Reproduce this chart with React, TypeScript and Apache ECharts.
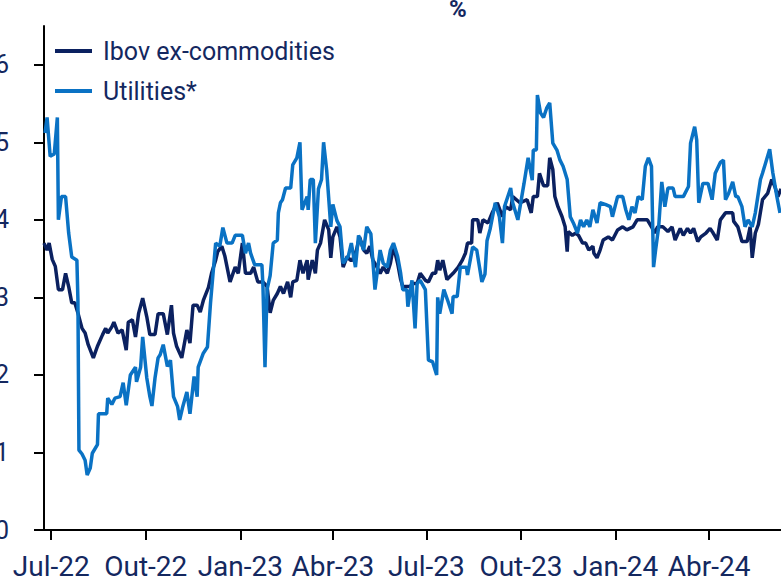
import React, { useEffect, useRef } from "react";
import * as echarts from "echarts";

const seriesNames = ["Ibov ex-commodities", "Utilities*"];
const seriesColors = ["#0b2160", "#0a72c4"];
const textColor = "#14285f";

const xTickDates = ["2022-07-01", "2022-10-01", "2023-01-01", "2023-04-01", "2023-07-01", "2023-10-01", "2024-01-01", "2024-04-01"];
const xTickLabels = ["Jul-22", "Out-22", "Jan-23", "Abr-23", "Jul-23", "Out-23", "Jan-24", "Abr-24"];
const yTickValues = [0, 1, 2, 3, 4, 5, 6];

const ibovDates = [
  "2022-06-24","2022-06-27","2022-06-29","2022-07-02","2022-07-05","2022-07-08","2022-07-12","2022-07-15","2022-07-18","2022-07-21",
  "2022-07-24","2022-07-27","2022-07-31","2022-08-03","2022-08-06","2022-08-11","2022-08-15","2022-08-20","2022-08-23","2022-08-25",
  "2022-08-29","2022-08-31","2022-09-04","2022-09-08","2022-09-12","2022-09-14","2022-09-18","2022-09-21","2022-09-24","2022-09-28",
  "2022-10-02","2022-10-05","2022-10-10","2022-10-13","2022-10-18","2022-10-22","2022-10-26","2022-10-28","2022-10-31","2022-11-05",
  "2022-11-10","2022-11-13","2022-11-16","2022-11-20","2022-11-23","2022-11-26","2022-12-01","2022-12-04","2022-12-08","2022-12-10",
  "2022-12-14","2022-12-17","2022-12-22","2022-12-27","2022-12-30","2023-01-03","2023-01-06","2023-01-11","2023-01-14","2023-01-18",
  "2023-01-23","2023-01-27","2023-01-30","2023-02-02","2023-02-06","2023-02-09","2023-02-12","2023-02-16","2023-02-19","2023-02-21",
  "2023-02-25","2023-02-28","2023-03-03","2023-03-07","2023-03-08","2023-03-12","2023-03-15","2023-03-17","2023-03-20","2023-03-24",
  "2023-03-28","2023-03-30","2023-04-01","2023-04-05","2023-04-08","2023-04-11","2023-04-15","2023-04-18","2023-04-20","2023-04-24",
  "2023-04-27","2023-05-01","2023-05-04","2023-05-07","2023-05-10","2023-05-14","2023-05-17","2023-05-20","2023-05-24","2023-05-27",
  "2023-05-30","2023-06-03","2023-06-06","2023-06-08","2023-06-15","2023-06-18","2023-06-22","2023-06-25","2023-06-30","2023-07-03",
  "2023-07-07","2023-07-10","2023-07-12","2023-07-14","2023-07-17","2023-07-21","2023-07-27","2023-08-01","2023-08-05","2023-08-08",
  "2023-08-10","2023-08-14","2023-08-15","2023-08-20","2023-08-22","2023-08-25","2023-08-30","2023-09-03","2023-09-08","2023-09-13",
  "2023-09-16","2023-09-21","2023-09-23","2023-09-30","2023-10-07","2023-10-11","2023-10-13","2023-10-17","2023-10-19","2023-10-23",
  "2023-10-27","2023-10-29","2023-11-01","2023-11-03","2023-11-06","2023-11-10","2023-11-13","2023-11-15","2023-11-16","2023-11-20",
  "2023-11-23","2023-11-26","2023-11-30","2023-12-03","2023-12-06","2023-12-10","2023-12-11","2023-12-14","2023-12-17","2023-12-20",
  "2023-12-25","2023-12-29","2024-01-03","2024-01-08","2024-01-12","2024-01-18","2024-01-22","2024-01-27","2024-02-01","2024-02-05",
  "2024-02-08","2024-02-11","2024-02-16","2024-02-21","2024-02-25","2024-02-28","2024-03-04","2024-03-07","2024-03-11","2024-03-14",
  "2024-03-17","2024-03-21","2024-03-24","2024-03-29","2024-04-02","2024-04-05","2024-04-09","2024-04-12","2024-04-17","2024-04-24",
  "2024-04-25","2024-04-29","2024-05-03","2024-05-08","2024-05-11","2024-05-13","2024-05-16","2024-05-19","2024-05-23","2024-05-28",
  "2024-06-01","2024-06-04","2024-06-07","2024-06-10"
];
const ibovValues = [
  3.7,3.61,3.7,3.49,3.4,3.1,3.1,3.31,3.14,2.93,
  2.93,2.8,2.6,2.54,2.39,2.22,2.37,2.52,2.6,2.54,
  2.62,2.68,2.54,2.58,2.32,2.68,2.71,2.49,2.79,2.99,
  2.75,2.52,2.52,2.79,2.79,2.52,2.9,2.54,2.37,2.22,
  2.58,2.41,2.9,2.9,2.81,2.96,3.13,3.31,3.48,3.59,
  3.66,3.53,3.2,3.39,3.31,3.7,3.31,3.31,3.39,3.2,
  3.2,3.14,2.8,2.96,3.05,3.14,3.05,3.2,3.0,3.2,
  3.22,3.48,3.31,3.48,3.23,3.48,3.31,3.61,3.7,4.0,
  3.87,3.51,3.78,3.91,3.78,3.39,3.53,3.48,3.48,3.61,
  3.78,3.61,3.57,3.66,3.48,3.39,3.31,3.39,3.31,3.44,
  3.66,3.44,3.23,3.14,3.14,3.18,3.18,3.31,3.22,3.2,
  3.31,3.31,3.48,3.35,3.48,3.23,3.31,3.39,3.48,3.57,
  3.7,3.7,4.0,4.0,3.83,4.0,3.96,4.09,4.22,4.04,
  4.17,4.13,4.3,4.22,4.26,4.09,4.3,4.3,4.6,4.44,
  4.44,4.8,4.65,4.3,4.17,4.04,3.91,3.59,3.85,3.8,
  3.83,3.8,3.7,3.7,3.61,3.66,3.57,3.51,3.61,3.74,
  3.78,3.74,3.87,3.91,3.87,3.91,4.0,4.0,4.0,3.91,
  3.83,3.91,3.91,3.85,3.91,3.74,3.89,3.8,3.89,3.83,
  3.89,3.72,3.78,3.83,3.89,3.83,3.74,4.0,4.09,4.09,
  3.98,3.91,3.72,3.72,3.91,3.51,3.83,3.94,4.26,4.34,
  4.52,4.43,4.3,4.4
];

const utilDates = [
  "2022-06-25","2022-06-27","2022-06-30","2022-07-04","2022-07-07","2022-07-08","2022-07-11","2022-07-15","2022-07-18","2022-07-21",
  "2022-07-26","2022-07-27","2022-07-28","2022-07-31","2022-08-03","2022-08-05","2022-08-08","2022-08-10","2022-08-15","2022-08-16",
  "2022-08-24","2022-08-25","2022-08-29","2022-09-01","2022-09-06","2022-09-09","2022-09-12","2022-09-16","2022-09-21","2022-09-22",
  "2022-09-26","2022-09-28","2022-10-02","2022-10-05","2022-10-07","2022-10-10","2022-10-13","2022-10-15","2022-10-18","2022-10-22",
  "2022-10-25","2022-10-28","2022-11-01","2022-11-03","2022-11-06","2022-11-10","2022-11-13","2022-11-17","2022-11-20","2022-11-21",
  "2022-11-26","2022-11-30","2022-12-03","2022-12-08","2022-12-12","2022-12-15","2022-12-19","2022-12-24","2022-12-27","2023-01-03",
  "2023-01-06","2023-01-09","2023-01-11","2023-01-15","2023-01-22","2023-01-23","2023-01-25","2023-01-27","2023-01-30","2023-02-02",
  "2023-02-06","2023-02-07","2023-02-09","2023-02-11","2023-02-14","2023-02-19","2023-02-21","2023-02-25","2023-02-28","2023-03-02",
  "2023-03-07","2023-03-08","2023-03-10","2023-03-13","2023-03-15","2023-03-18","2023-03-21","2023-03-23","2023-03-26","2023-03-30",
  "2023-04-01","2023-04-05","2023-04-08","2023-04-11","2023-04-16","2023-04-19","2023-04-23","2023-04-26","2023-05-01","2023-05-04",
  "2023-05-08","2023-05-12","2023-05-17","2023-05-20","2023-05-24","2023-05-27","2023-05-30","2023-06-03","2023-06-06","2023-06-08",
  "2023-06-12","2023-06-13","2023-06-17","2023-06-20","2023-06-22","2023-06-25","2023-06-30","2023-07-03","2023-07-07","2023-07-11",
  "2023-07-12","2023-07-14","2023-07-18","2023-07-22","2023-07-26","2023-07-27","2023-07-31","2023-08-03","2023-08-09","2023-08-10",
  "2023-08-15","2023-08-19","2023-08-24","2023-08-27","2023-08-29","2023-09-01","2023-09-06","2023-09-10","2023-09-13","2023-09-15",
  "2023-09-21","2023-09-23","2023-09-28","2023-10-04","2023-10-08","2023-10-12","2023-10-13","2023-10-16","2023-10-17","2023-10-20",
  "2023-10-23","2023-10-26","2023-10-29","2023-11-01","2023-11-05","2023-11-08","2023-11-11","2023-11-15","2023-11-18","2023-11-21",
  "2023-11-25","2023-11-28","2023-12-01","2023-12-04","2023-12-07","2023-12-10","2023-12-14","2023-12-17","2023-12-22","2023-12-27",
  "2023-12-29","2024-01-03","2024-01-08","2024-01-11","2024-01-14","2024-01-17","2024-01-20","2024-01-23","2024-01-27","2024-01-30",
  "2024-02-02","2024-02-05","2024-02-07","2024-02-09","2024-02-12","2024-02-15","2024-02-18","2024-02-21","2024-02-26","2024-02-28",
  "2024-03-07","2024-03-12","2024-03-14","2024-03-18","2024-03-20","2024-03-22","2024-03-26","2024-03-31","2024-04-04","2024-04-07",
  "2024-04-12","2024-04-15","2024-04-17","2024-04-20","2024-04-24","2024-04-27","2024-04-29","2024-05-03","2024-05-06","2024-05-09",
  "2024-05-13","2024-05-16","2024-05-21","2024-05-23","2024-05-30","2024-06-02","2024-06-06","2024-06-09"
];
const utilValues = [
  5.12,5.32,4.82,4.85,5.32,4.0,4.3,4.3,3.83,3.52,
  3.48,2.97,1.03,0.98,0.9,0.71,0.8,0.99,1.1,1.5,
  1.5,1.7,1.62,1.7,1.72,1.9,1.61,2.0,2.1,1.91,
  2.1,2.49,1.96,1.72,1.6,1.96,2.22,2.26,2.39,2.11,
  2.19,1.72,1.59,1.42,1.59,1.78,1.5,1.98,1.72,2.1,
  2.28,2.36,2.93,3.7,3.66,3.9,3.7,3.7,3.8,3.8,
  3.57,3.7,3.57,3.42,3.42,3.15,2.1,3.1,3.28,3.7,
  3.74,4.09,4.22,4.26,4.41,4.41,4.71,4.8,5.0,4.13,
  4.3,4.13,4.52,4.52,3.7,4.4,4.52,5.0,4.64,3.91,
  4.2,3.99,3.91,3.44,3.53,3.7,3.39,3.8,3.61,3.91,
  3.82,3.1,3.61,3.44,3.39,3.61,3.7,3.53,3.31,3.1,
  3.1,2.88,3.22,2.6,3.18,3.22,3.1,2.19,2.17,2.0,
  3.0,2.79,3.1,2.95,2.79,3.01,3.01,3.39,3.39,3.29,
  3.65,3.61,3.2,3.3,3.73,3.88,4.22,4.04,3.7,4.17,
  4.41,4.22,4.0,4.47,4.8,4.51,4.9,4.9,5.61,5.38,
  5.32,5.44,5.51,4.99,4.9,4.77,4.69,4.52,4.04,3.96,
  3.83,4.0,3.91,4.0,3.91,4.13,3.96,4.22,4.2,4.17,
  4.04,4.3,4.3,4.13,4.0,4.17,4.09,4.3,4.26,4.69,
  4.8,4.69,3.39,3.61,3.91,4.49,4.17,4.41,4.41,4.3,
  4.3,4.43,4.99,5.2,5.03,4.22,4.47,4.47,4.26,4.6,
  4.74,4.77,4.26,4.34,4.49,4.3,4.3,4.17,3.91,4.0,
  3.91,4.09,4.52,4.6,4.91,4.61,4.3,4.09
];

const xMin = "2022-06-24";
const xMax = "2024-06-10";

const toTs = (d: string) => new Date(d + "T00:00:00").getTime();

export default function App() {
  const ref = useRef<HTMLDivElement>(null);
  useEffect(() => {
    if (!ref.current) return;
    const chart = echarts.init(ref.current, null, { renderer: "svg" });
    const tickTs = xTickDates.map(toTs);
    const font = "Roboto";
    chart.setOption({
      animation: false,
      textStyle: { fontFamily: font },
      title: {
        text: "%",
        left: 444,
        top: -8,
        textStyle: { fontSize: 24, fontWeight: "bold", color: textColor, fontFamily: font },
      },
      legend: {
        orient: "vertical",
        left: 50,
        top: 31,
        itemWidth: 37,
        itemHeight: 4,
        itemGap: 10,
        icon: "rect",
        data: seriesNames,
        textStyle: { fontSize: 25, color: textColor, fontFamily: font, lineHeight: 30, padding: [0, 0, 0, 6] },
      },
      grid: { left: 44, right: 0, top: 26, bottom: 47, containLabel: false, outerBoundsMode: "none" },
      xAxis: {
        type: "value",
        min: toTs(xMin),
        max: toTs(xMax),
        splitLine: { show: false },
        axisLine: { lineStyle: { color: "#000", width: 2 } },
        axisTick: { show: true, length: 10, lineStyle: { color: "#000", width: 2 }, customValues: tickTs },
        axisLabel: {
          customValues: tickTs,
          hideOverlap: false,
          margin: 22,
          fontSize: 28,
          color: textColor,
          fontFamily: font,
          formatter: (v: number) => {
            const i = tickTs.findIndex((t) => Math.abs(t - v) < 43200000);
            return i >= 0 ? xTickLabels[i] : "";
          },
        },
      },
      yAxis: {
        type: "value",
        min: 0,
        max: 6.5,
        interval: 1,
        splitLine: { show: false },
        axisLine: { show: true, lineStyle: { color: "#000", width: 2 } },
        axisTick: { show: true, length: 10, lineStyle: { color: "#000", width: 2 }, customValues: yTickValues },
        axisLabel: { customValues: yTickValues, margin: 35, fontSize: 25, color: textColor, fontFamily: font },
      },
      series: [
        {
          name: seriesNames[0],
          type: "line",
          symbol: "none",
          showSymbol: false,
          color: seriesColors[0],
          lineStyle: { width: 3.5, color: seriesColors[0] },
          data: ibovDates.map((d, i) => [toTs(d), ibovValues[i]]),
        },
        {
          name: seriesNames[1],
          type: "line",
          symbol: "none",
          showSymbol: false,
          color: seriesColors[1],
          lineStyle: { width: 3.5, color: seriesColors[1] },
          data: utilDates.map((d, i) => [toTs(d), utilValues[i]]),
        },
      ],
    });
    return () => chart.dispose();
  }, []);
  return (
    <div style={{ position: "fixed", left: 0, top: 0, width: 781, height: 577, overflow: "hidden", background: "#fff" }}>
      <div ref={ref} style={{ width: 781, height: 577 }} />
    </div>
  );
}
